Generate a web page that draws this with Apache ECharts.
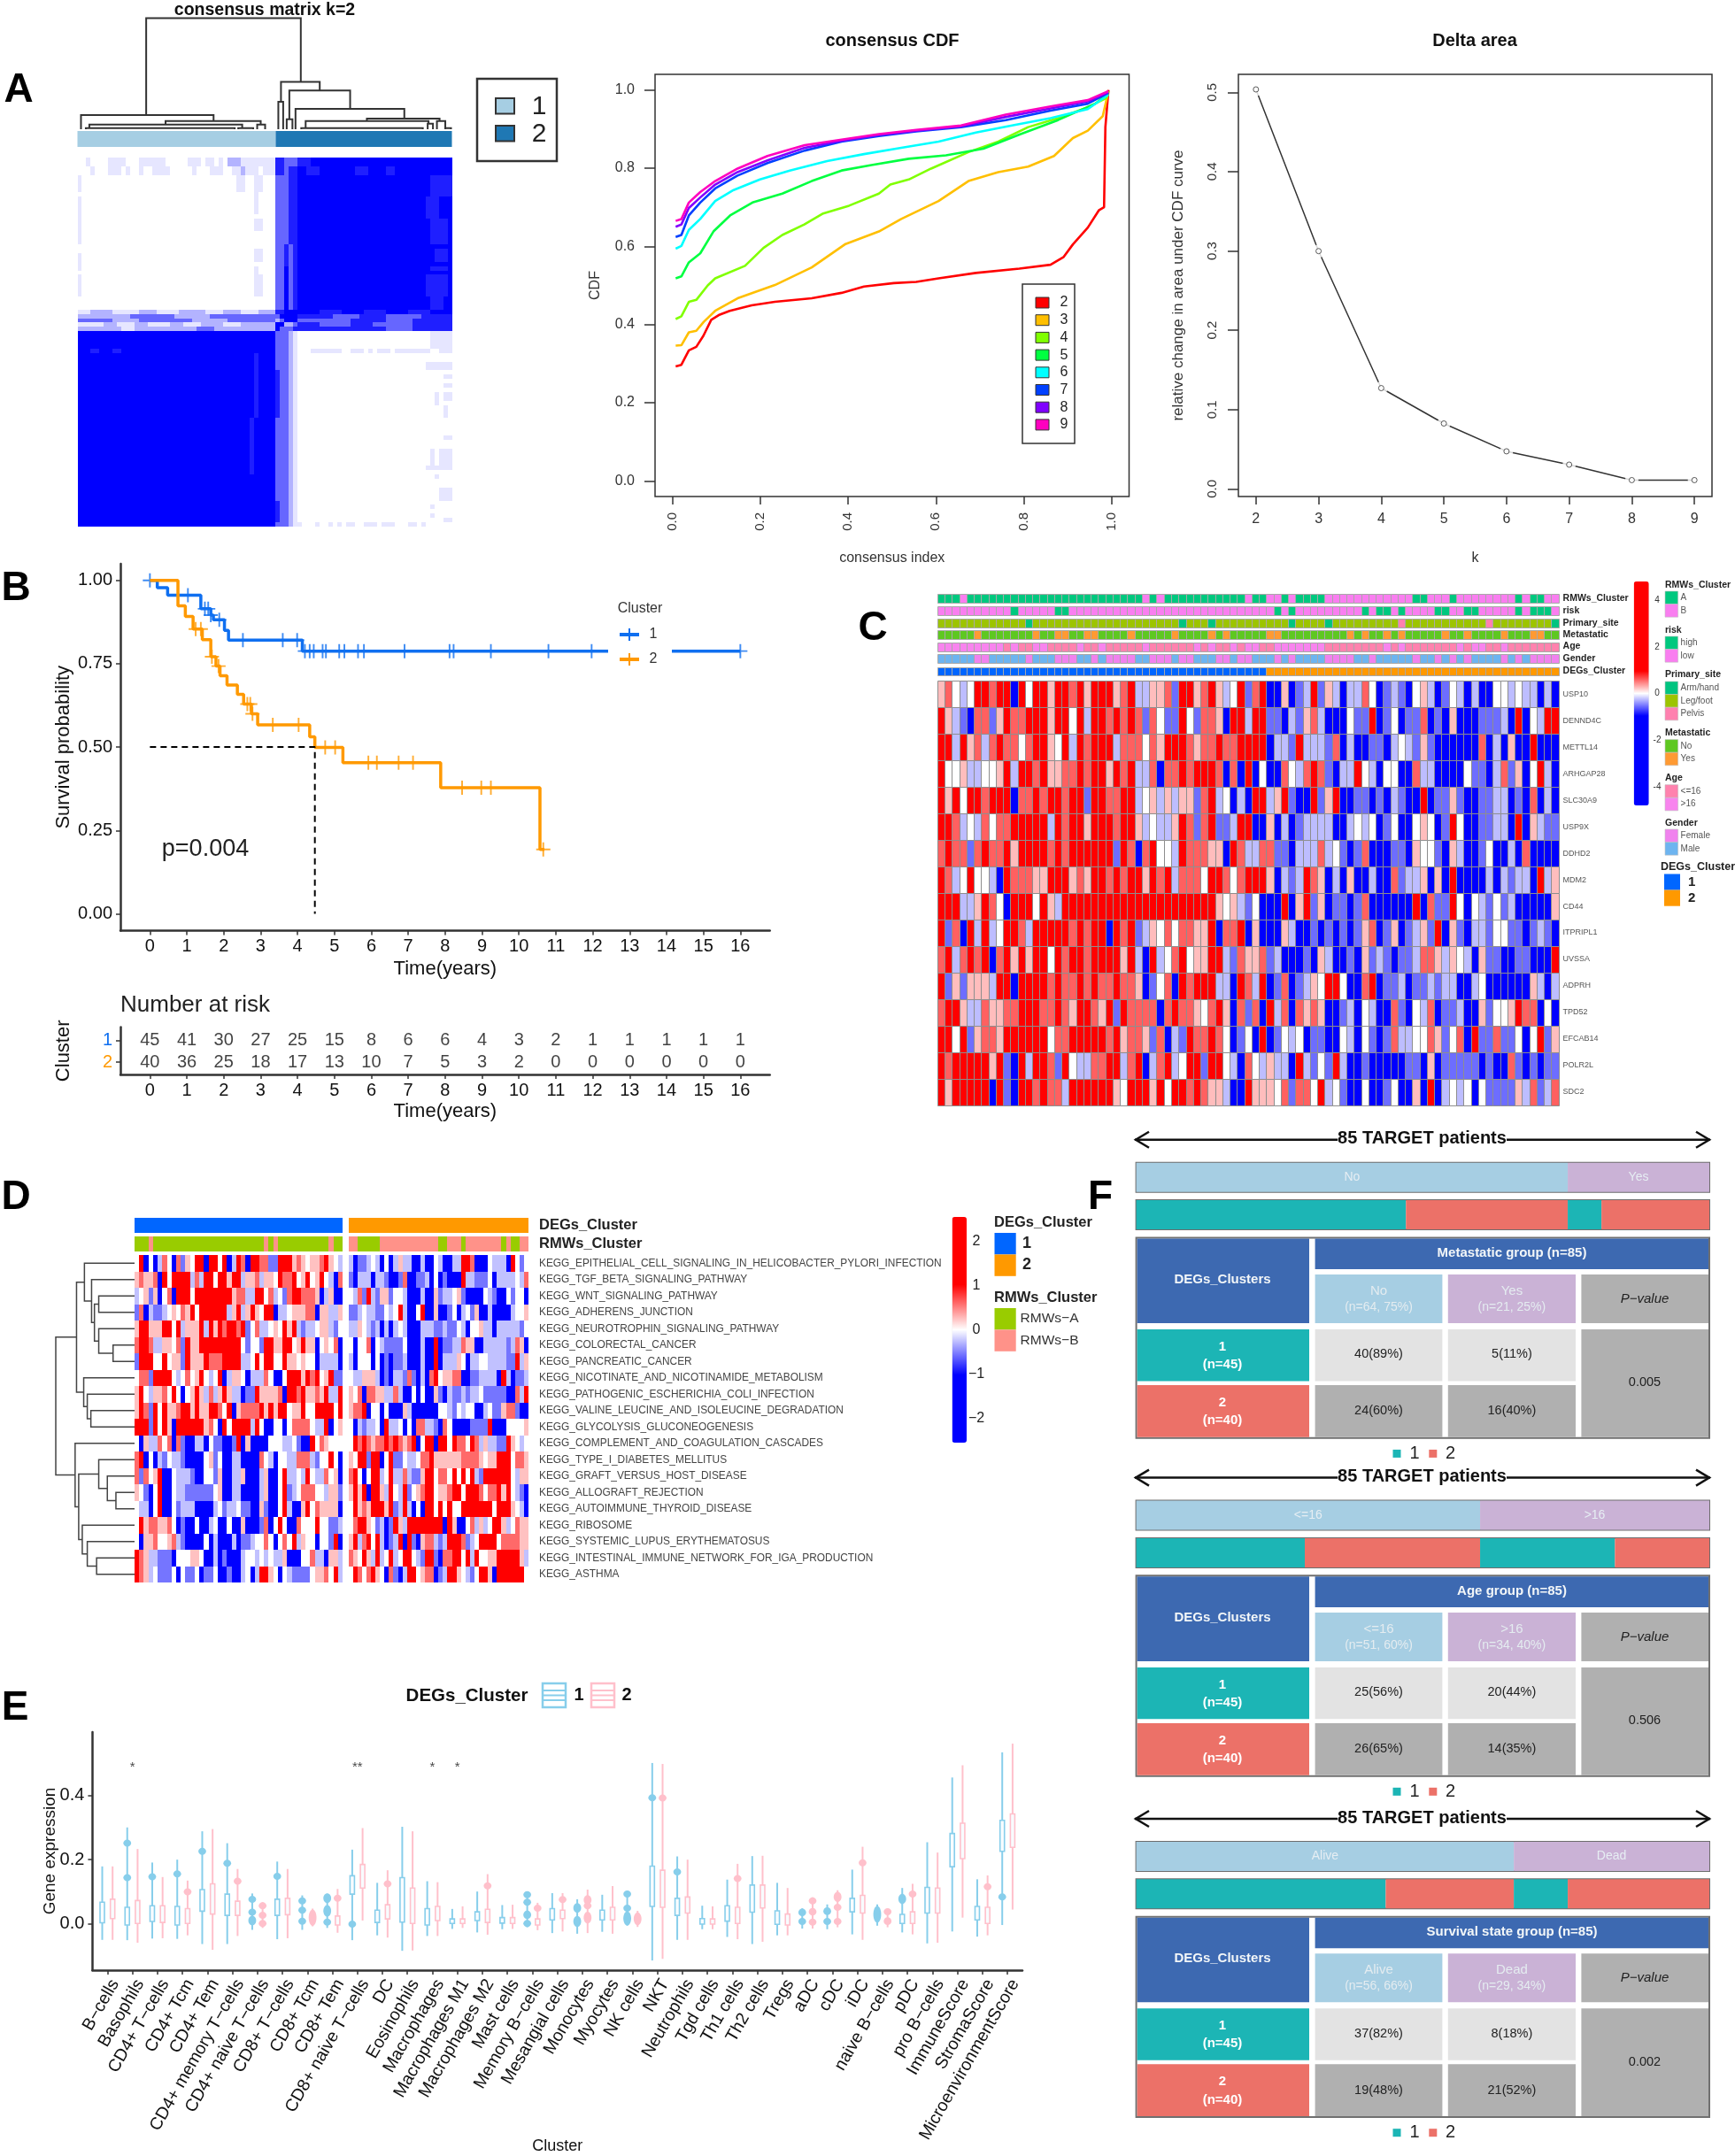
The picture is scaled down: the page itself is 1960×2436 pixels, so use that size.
<!DOCTYPE html>
<html><head><meta charset="utf-8"><style>html,body{margin:0;padding:0;background:#fff}#c{width:1960px;height:2436px}</style>
<script src="https://cdn.jsdelivr.net/npm/echarts@6/dist/echarts.min.js"></script></head><body><div id="c"></div>
<script>
const FONT='"Liberation Sans"';
// ---------- DATA ----------
const consensusLevels={a:0,b:.1,c:.3,d:.6,e:.88,f:1};
const consensusBlocks=[
[2,"a2b1a4b4a3b6a5b3a1b2a1b1a1c3b8","e2d3","e3f32"],
[2,"a3b1a3b3a1b1a2b1a2b4a5b1a3b3a2b2c1b3a1b3","e2d1e2","f2e3f8e3f4e2f13"],
[4,"b1a35b2a2b2a3","d3e2","f30e5"],
[1,"a40b1a4","d3e2","f30e5"],
[4,"b1a39b1a4","d3e2","f29e3f3"],
[1,"b1a44","d3e2","f29e3f3"],
[3,"b1a39b2a3","d3e2","f30e4f1"],
[3,"b1a44","d3e2","f30e4f1"],
[1,"a45","d2e1d1e1","f35"],
[1,"a40b2a3","d2e1d1e1","f31e3f1"],
[2,"b1a39b2a3","d2e1d1e1","f31e3f1"],
[1,"b1a44","d2e1d1e1","f35"],
[1,"b1a39b1a4","d2f1d1e1","f30e4f1"],
[1,"a40b1a4","d2f1d1e1","f35"],
[5,"b1a39b2a3","d2f1d1e1","f29e5f1"],
[3,"a45","d2f1d1e1","f30e3f2"],
[1,"b3c5b6c4b5c6b4c4b4c4","e2f3","f5e5f5e5f5e5f5"],
[1,"c12d10c8d15","d1f4","e8d6e6d8e7"],
[1,"d8c6d12c8d11","c1d1f3","d12e8d6e9"],
[1,"b6c3b4c3b5c3b4c5b4c8","f2c2d1","e5d7e5d9e9"],
[1,"c10b3c14d4c14","f1d3e1","e20d6e9"],
[4,"f45","d3c1b1","a30b5"],
[1,"f3e2f3e2f35","d3c1b1","a3b7a2b3a1b1a1b3a1b8a2b3"],
[2,"f40e1f4","d3c1b1","a35"],
[2,"f40e1f4","d3c1b1","a29b6"],
[1,"f40e1f4","e1d2c1b1","a35"],
[1,"f40e1f4","e1d2c1b1","a33b2"],
[1,"f40e1f4","e1d2c1b1","a35"],
[1,"f40e1f4","e1d2c1b1","a33b2"],
[1,"f40e1f4","e1d2c1b1","a35"],
[2,"f40e1f4","e1d2c1b1","a31b1a1b2"],
[1,"f40e1f4","e1d2c1b1","a31b1a3"],
[3,"f40e1f4","e1d2c1b1","a33b1a1"],
[4,"f39e1f5","d3c1b1","a35"],
[1,"f39e1f5","d3c1b1","a33b2"],
[2,"f39e1f5","d3c1b1","a35"],
[4,"f39e1f5","d3c1b1","a30b1a1b3"],
[1,"f39e1f5","d3c1b1","a29b6"],
[1,"f39e1f5","d3c1b1","a35"],
[1,"f45","d3c1b1","a31b1a3"],
[2,"f45","d3c1b1","a35"],
[3,"f45","d3c1b1","a32b3"],
[1,"f45","e1d2c1b1","a35"],
[1,"f45","e1d2c1b1","a30b1a4"],
[1,"f45","e1d2c1b1","a35"],
[1,"f45","e1d2c1b1","a30b1a4"],
[1,"f45","e1d2c1b1","a33b2"],
[1,"f45","d3c1b1","b1a3b1a2b1a1b1a1b2a2b3a1b3a3b2a1b1a7"]];
const consensusDendro=[[15.6,50.7,1,.127,.427],[.8,30.9,.127,0,.073],[20,41.6,.073,.041,.041],[2.7,37.4,.041,.01,.01],[1.9,35.7,.01,0,0],[36.5,39.9,.01,0,0],[40.8,42.6,.041,0,0],[46.2,55,.427,.247,.348],[45.6,46.7,.247,0,0],[48.1,61.9,.348,.089,.184],[47.5,48.8,.089,0,0],[49.5,74.2,.184,0,.095],[65.7,82.2,.095,.073,.073],[51.8,79.7,.073,.01,.05],[50.8,78.4,.01,0,0],[79.5,80.7,.05,0,0],[81.6,83.5,.073,0,0],[83.5,84.8,.01,0,0]];
const clusterCounts=[45,40];
const cdfNames=['2','3','4','5','6','7','8','9'];
const cdfColors=['#FF0000','#FFBF00','#80FF00','#00FF40','#00FFFF','#0040FF','#8000FF','#FF00BF'];
const cdfK2=[[.007,.293],[.02,.297],[.037,.334],[.054,.343],[.07,.371],[.088,.412],[.105,.424],[.13,.435],[.18,.449],[.233,.458],[.317,.467],[.385,.481],[.436,.497],[.504,.506],[.555,.509],[.606,.518],[.691,.532],[.79,.543],[.861,.553],[.891,.573],[.912,.605],[.946,.648],[.971,.692],[.983,.70],[.986,.905],[.993,1]];
const cdfK3=[[.007,.346],[.02,.347],[.037,.38],[.054,.384],[.071,.407],[.097,.435],[.148,.467],[.233,.501],[.317,.546],[.394,.606],[.47,.638],[.521,.67],[.606,.716],[.674,.767],[.742,.79],[.81,.804],[.869,.831],[.912,.877],[.946,.896],[.98,.933],[.993,.997]];
const cdfK4=[[.007,.414],[.02,.421],[.037,.458],[.054,.463],[.08,.5],[.097,.518],[.165,.55],[.207,.596],[.25,.629],[.3,.656],[.343,.684],[.402,.704],[.47,.735],[.496,.758],[.538,.771],[.589,.799],[.674,.841],[.742,.868],[.81,.905],[.878,.928],[.946,.956],[.988,.979],[.993,.997]];
const cdfK5=[[.007,.518],[.02,.523],[.037,.559],[.063,.582],[.093,.638],[.131,.679],[.182,.712],[.25,.735],[.317,.767],[.385,.794],[.453,.808],[.538,.824],[.623,.833],[.708,.85],[.793,.887],[.878,.923],[.963,.965],[.993,.993]];
const cdfK6=[[.007,.594],[.02,.601],[.037,.642],[.063,.67],[.097,.716],[.139,.744],[.199,.771],[.267,.794],[.352,.818],[.436,.836],[.521,.852],[.606,.868],[.691,.891],[.776,.91],[.861,.928],[.946,.951],[.993,.988]];
const cdfK7=[[.007,.624],[.02,.629],[.037,.679],[.063,.712],[.097,.748],[.148,.781],[.216,.813],[.301,.845],[.385,.868],[.47,.882],[.555,.894],[.657,.905],[.759,.923],[.861,.947],[.946,.965],[.993,.993]];
const cdfK8=[[.007,.65],[.02,.656],[.037,.698],[.063,.725],[.097,.758],[.148,.79],[.216,.82],[.301,.852],[.385,.87],[.47,.885],[.555,.896],[.657,.907],[.759,.931],[.861,.953],[.946,.971],[.993,.994]];
const cdfK9=[[.007,.665],[.02,.67],[.037,.712],[.063,.739],[.097,.767],[.148,.799],[.216,.831],[.301,.859],[.385,.873],[.47,.887],[.555,.898],[.657,.909],[.759,.937],[.861,.958],[.946,.974],[.993,.997]];
const deltaK=[2,3,4,5,6,7,8,9];
const deltaArea=[.5037,.2998,.127,.0824,.0473,.0305,.011,.011];
const survival1=[[0,1],[.2,.978],[.48,.956],[1.38,.915],[1.65,.896],[1.72,.882],[2.02,.85],[2.13,.821],[4.13,.788],[16,.788]];
const survival2=[[0,1],[.76,.924],[.96,.892],[1.17,.854],[1.42,.822],[1.65,.771],[1.79,.743],[1.9,.714],[2.09,.686],[2.37,.658],[2.54,.629],[2.75,.6],[2.92,.567],[4.33,.531],[4.47,.499],[5.23,.453],[7.88,.378],[10.57,.193],[10.69,.193]];
const censor1=[[0,1],[.76,.956],[1.03,.956],[1.49,.915],[1.58,.915],[1.65,.896],[1.88,.882],[2.52,.821],[3.6,.821],[3.99,.821],[4.2,.788],[4.33,.788],[4.44,.788],[4.68,.788],[4.77,.788],[5.13,.788],[5.27,.788],[5.64,.788],[5.8,.788],[6.9,.788],[8.12,.788],[8.23,.788],[9.24,.788],[10.8,.788],[11.97,.788],[16,.788]];
const censor2=[[1.24,.854],[1.38,.854],[1.68,.771],[1.86,.743],[2.64,.629],[2.72,.629],[2.78,.6],[3.33,.567],[4.03,.567],[4.75,.499],[5.02,.499],[5.92,.453],[6.15,.453],[6.74,.453],[7.13,.453],[8.46,.378],[8.98,.378],[9.24,.378],[10.66,.193]];
const medianTime=4.47;
const riskYears=[0,1,2,3,4,5,6,7,8,9,10,11,12,13,14,15,16];
const risk1=[45,41,30,27,25,15,8,6,6,4,3,2,1,1,1,1,1];
const risk2=[40,36,25,18,17,13,10,7,5,3,2,0,0,0,0,0,0];
const genes=['USP10','DENND4C','METTL14','ARHGAP28','SLC30A9','USP9X','DDHD2','MDM2','CD44','ITPRIPL1','UVSSA','ADPRH','TPD52','EFCAB14','POLR2L','SDC2'];
const expressionRows=[
"prwcwRRrRRBRwRRpRRrRpRRRprRccpprbRRprRpcwRb"+"rRBBpBbcRbpcBccrwBbcbBwpcBbwcBcBBwwcwccBcB",
"RpcbBrrbpRrrRRRpRRwRcRRrRrRrbrwbbRwbrrpBRRc"+"RRbbBcbprcBBBwbbRBbwBbbrBbBpBBBbbbcBRBwcRR",
"RRcRprcrRrrwrRRpwRcRrRRRcrrrwrpRRRrprrRrrRR"+"RRBccbRcccbrBcBBbbBcwcbpbBBBBBBrBcBpBBRBBB",
"RwwpccwwpRcRRrRpprrRrRRpRrRccrBrrRrRRRrBrBR"+"BwBBrwcrRrbBccRwcBwwBBrccBBBBwbbBcrbpBwRcB",
"RpRwRRrRRRBrrRrRRrRRbRRrrRRcwpcpcppbrRcwBcB"+"RRcpRbBBRbpRBBbbBbBcbBBRBbbpbBBbbccBbBrBcB",
"RRrcwcrwrrRRRRRcRrRRpRRRrRRpcwccpRrbrRbbcRR"+"BBpBcBbccccBBcwcwBbwBBwpwBbRwBBbbccBRBpcbb",
"rRrrbrRrrRpRRRRrRrRRRRRRbRrBrRwwcRrrrppBRrc"+"crrbbBcccrcwbBbrBBBbbBpwwbBpcBBbwBBcBrBBBB",
"RrcwRwwcBRrrrppRRRprpRRrRrRRpRrRcrrrwRRrwrR"+"RRpBcbcRrpBcBpBBcBBrbccpBpBRBBBBcBcbccBRcp",
"RRRccpRrwBRRRwRpcRRRRRRRRRRRRRRRRRRRRRpwpcb"+"wBBBRBpRbpBbbBbrBBBBBBRBrbbRwBwcbwbcBBBBBp",
"RbrBRcRcwRRrcRRRRRrRrRRBRrRbcpwrwrrppRBrrRB"+"pBBBpcBBbBbBbBbprBbpBbcpbRBpbBccbwwbbBbcbB",
"rRcrRrRBrRpRpRRwRrRRrRRRRpRcBRcwrRwppRRcbrp"+"prbcBBBbBpcBBbBpbcbBbbcrrpcpwcBpbbBBbbBBBR",
"RbpbpppcRRBRRRRrRrrRrRrrRrrpBbwrBRrRRRccBRr"+"cRBbrBbcpwRRwBBrRBbbcBbbcbccBBcwBBBBBBpcBc",
"rRRpccrpprrRRRrrRrpRRrpRbRrrrrBrRrrpwrRpBrb"+"rBRcrBrprpBBbcBwcBBrbBwcrBbbcBBpbwwpRrrBwB",
"RRwRbprrpRRRRRRwrrRRRRRrRprrpbrBcbRrrRrwBbw"+"BRBbwcwBbbBBwcBwbBbrccwwrpbwrBRbbrbbwBwRbp",
"RrRRRRRpRbBRcRRrbRwccrrRRcrRBcrRcwRRbRRwcBr"+"wcpccBRcbwbRcBBbBBBBBbbBpBbbbbbBbBBrbBbBbb",
"RpRRRRRBRbBRRrRrrcRRRRRRpwRRRpRwRRrRrppcBBR"+"pppwrbrrwRcwbBBwBBbwBBpBRBcwcwBwbbbbpcrbcr"];
const heatLevels={B:-2.5,b:-.55,c:-.25,w:0,p:.25,r:.6,R:2.5};
const annotationTracks=[
{title:'RMWs_Cluster',names:['A','B'],colors:['#00C87F','#F97EF0'],runs:[0,3,1,1,0,24,1,1,0,1,1,1,0,11,1,1,0,2,1,2,0,1,1,1,0,4,1,12,0,2,1,3,0,1,1,8,0,1,1,1,0,2,1,2]},
{title:'risk',names:['high','low'],colors:['#00C87F','#F97EF0'],runs:[1,10,0,1,1,5,0,2,1,28,0,1,1,1,0,1,1,9,0,1,1,1,0,2,1,1,0,1,1,4,0,2,1,2,0,2,1,5,0,1,1,1,0,3,1,1]},
{title:'Primary_site',names:['Arm/hand','Leg/foot','Pelvis'],colors:['#00C480','#9DC400','#FF80AF'],runs:[1,12,0,1,1,20,0,1,1,3,0,1,1,10,0,1,1,4,0,1,1,9,2,1,1,11,2,1,1,8,0,1]},
{title:'Metastatic',names:['No','Yes'],colors:['#5EC821','#FF9A33'],runs:[0,5,1,1,0,7,1,1,0,2,1,2,0,2,1,2,0,4,1,1,0,5,1,1,0,4,1,1,0,1,1,1,0,5,1,2,0,9,1,1,0,1,1,1,0,2,1,1,0,1,1,1,0,5,1,1,0,2,1,1,0,4,1,1,0,3,1,2,0,2]},
{title:'Age',names:['<=16','>16'],colors:['#FF82AE','#F884EE'],runs:[1,9,0,1,1,1,0,2,1,2,0,4,1,1,0,2,1,1,0,5,1,1,0,6,1,1,0,1,1,1,0,2,1,1,0,1,1,2,0,2,1,7,0,8,1,1,0,1,1,1,0,7,1,1,0,1,1,2,0,2,1,1,0,7]},
{title:'Gender',names:['Female','Male'],colors:['#F082EE','#6DB4F0'],runs:[1,5,0,2,1,5,0,1,1,3,0,3,1,2,0,1,1,1,0,4,1,2,0,3,1,1,0,2,1,3,0,2,1,1,0,2,1,3,0,1,1,1,0,1,1,4,0,4,1,2,0,1,1,5,0,1,1,2,0,1,1,1,0,1,1,1,0,1,1,4,0,1,1,1,0,1,1,1,0,4]},
{title:'DEGs_Cluster',names:['1','2'],colors:['#0066FF','#FF9900'],runs:[0,45,1,40]}];
const colorbarTicksC=[4,2,0,-2,-4];
const colorbarTicksD=[2,1,0,-1,-2];
const pathways=['KEGG_EPITHELIAL_CELL_SIGNALING_IN_HELICOBACTER_PYLORI_INFECTION','KEGG_TGF_BETA_SIGNALING_PATHWAY','KEGG_WNT_SIGNALING_PATHWAY','KEGG_ADHERENS_JUNCTION','KEGG_NEUROTROPHIN_SIGNALING_PATHWAY','KEGG_COLORECTAL_CANCER','KEGG_PANCREATIC_CANCER','KEGG_NICOTINATE_AND_NICOTINAMIDE_METABOLISM','KEGG_PATHOGENIC_ESCHERICHIA_COLI_INFECTION','KEGG_VALINE_LEUCINE_AND_ISOLEUCINE_DEGRADATION','KEGG_GLYCOLYSIS_GLUCONEOGENESIS','KEGG_COMPLEMENT_AND_COAGULATION_CASCADES','KEGG_TYPE_I_DIABETES_MELLITUS','KEGG_GRAFT_VERSUS_HOST_DISEASE','KEGG_ALLOGRAFT_REJECTION','KEGG_AUTOIMMUNE_THYROID_DISEASE','KEGG_RIBOSOME','KEGG_SYSTEMIC_LUPUS_ERYTHEMATOSUS','KEGG_INTESTINAL_IMMUNE_NETWORK_FOR_IGA_PRODUCTION','KEGG_ASTHMA'];
const pathwayTree=[110,[81,[70,0,[60,1,[56,[50,2,3],[50,4,[30,5,6]]]]],[71,7,[66,8,[61,9,10]]]],[83,11,[78,[50,12,[38,13,[26,14,15]]],[73,16,[66,17,[53,18,19]]]]]];
const gsvaLeft=[
"wRBwBcrwBrbpwRRBRRwRBcRrBRRrrbbRRRprpwpprRpwc","prpprBRwRRRRcrcRRwRRpRRcpprcppwRrrRwpRwpRwcBr","cwpbpBwrBRRRwRRRRRRRRprrccRRwrcwbrRRrrrpBcpBB","brBcbbcwpwrpRwRRRRRRcpRcpRpwRRBccwppprrBppccp","pRRpppRRwRcpppRcRpRrRRrRbwrccwpwRpRcbccwppcbw","rRRrccppwrbRppRRRRRRRRRwbwwbRRppRRwpRppBwpwrB","bRRRwwRwppbRpppRrrrRRRRccwRwRRwwRppwpwwBccccB","wrrbRRRRwcwrwpRwcwRBcppwBcccrwBBwRRRpRrRwpRbb","pRwcpprwRwBwpRpcrcpRpccBbbRpppprBRRrRpprpRccR","pRrbRwRpprRRpRppRRrwRBprrrrRpRpRRwppRwwRRRRwR","RRRbRwRpBRRRRRRprwBRwRRRRcRwBBwwBwrrrrwccRBwp","wBpccrwrBrbBBccBwbbBBbRBpBBBBwwwccwbBBRwrpwww","rRBwBcbwccbBBBBwpbwBBccBBBBrwcBwwccrrrcbwwRwB","rbrwpRBBwcccbBBwwbpBBccpBBBcpBBwRccwcRwccrwpB","pwbBwRBBwccbbbbbbwpBBccBBBBcpBBwRbcwrrrwwcppb","wccBwRBBwbcccBBBBcwbccwbbBBpbBBwRcBBpRwrppppB","wRprrpprwBbBBwBBcwBBwBBpBBBbrBwRwBBrwwwRwwbbc","wBpprwwprcbBBBBwBcBBBcBbbcwwrwBwrwRcpwwBwwbRB","RrpccbbbBwwwppwBBcBbBBBcwwcwcwccpBBBwwrccBppc","RrpcwbbbwBwbbwBbbwBBbBBcwBcRRpwBwcbbbbwpprwRc"];
const gsvaRight=[
"cBbbcwcBwBcpccBBcBBwcBBccRRrBBBwcccBRwbw","bBcccBccbBBbrBBbbcBwBbBBBRccbbbwBccccwcr","wcrbRcbppbwwcBBBcBBpbccwpbBBBBwcbBBwbwwB","bbcwccbbwcwRcBBwRBBpBBbwBcwbpBBcBBBBcwwp","ccpwcbcBcBcwcBBBcccbbcbbwcBwwpccBcccccbw","wBwwrBwcbbbbwBBBcBBRBbbccrppBBcccccbcrpB","cBwwwBwBbBbbcBBBcBBRBcccpwBccwwccccbbRcp","wccpppcBbBccbrbBcBrRwpprrBBbbccccBRcBbbc","pwrBrrppccrcBBwBwBBpbBcbbcbccwbbbbbBBrcR","prrRBwwBwBBBpcBBBBBBwwcbwcwwBBcwbbprrbBB","wBcbccwBRccwBwBrrccbBrwBBBBbbbbRBBBwwwwp","wRrRrprrRrRrprRBwRRBRRwRrrwRrcpccbbRpwcw","pwRRbRRBwRbbwccwrrRpppppprrrrpwppRRRwrrp","rRwBwRRcwRccrcbbpRRwrrwRwRwRcbRRRRRRwcpp","pRpRBRRpcRwcRbwprRRwpprRRwRRRrwrrRpRwcbB","wRprpRRRpRbcRcBwBRRwRwRwwRRRRRRRwRRRpwcB","wrRRpwbcBbRpcRRRRRRRRBRpBBwrcpcwRRpcwrpp","pRcrRwRcBbcRBRbBprrcbcRRRrbcwRRRRwrrrrpp","rpwRpcRcwRcwRRwcbRRbBrrRRwRcRwwppRRRRRpc","wRrwrRpwBrbBcRRwprrBbcRRpwcbwRRpBRRRRRRw"];
const gsvaRmwLeft=[0,3,1,1,0,24,1,1,0,1,1,1,0,11,1,1,0,2];
const gsvaRmwRight=[1,2,0,5,1,13,0,2,1,3,0,1,1,8,0,1,1,1,0,2,1,2];
const rmwColors=['#99CC00','#FF9289'];
const degColors=['#0066FF','#FF9900'];
const cellTypes=['B\u2212cells','Basophils','CD4+ T\u2212cells','CD4+ Tcm','CD4+ Tem','CD4+ memory T\u2212cells','CD4+ naive T\u2212cells','CD8+ T\u2212cells','CD8+ Tcm','CD8+ Tem','CD8+ naive T\u2212cells','DC','Eosinophils','Macrophages','Macrophages M1','Macrophages M2','Mast cells','Memory B\u2212cells','Mesangial cells','Monocytes','Myocytes','NK cells','NKT','Neutrophils','Tgd cells','Th1 cells','Th2 cells','Tregs','aDC','cDC','iDC','naive B\u2212cells','pDC','pro B\u2212cells','ImmuneScore','StromaScore','MicroenvironmentScore'];
const immune1=[[-.049,.179,.004,.068,[]],[-.05,.30,-.003,.052,[.251,.144]],[-.045,.191,.008,.057,[.147]],[-.046,.2,-.003,.055,[.156]],[-.062,.288,.04,.107,[.226]],[-.062,.251,.027,.093,[.189]],[-.018,.095,null,null,[.077,.037,[.011,.015]]],[-.047,.194,.027,.077,[.148]],[-.018,.089,null,null,[.072,.043,.009]],[-.012,.093,null,null,[[.08,.015],[.041,.018],.006]],[-.05,.231,.093,.15,[0]],[-.035,.128,.005,.043,[]],[-.083,.302,.006,.144,[]],[-.037,.133,-.003,.048,[]],[-.015,.047,.002,.016,[]],[-.026,.101,.011,.038,[]],[-.016,.059,.003,.02,[]],[-.01,.099,null,null,[.091,.068,[.029,.013],.002]],[-.028,.096,.013,.048,[]],[-.03,.077,null,null,[[.05,.015],[.008,.017]]],[-.024,.091,.013,.043,[]],[-.005,.103,null,null,[.093,.049,[.018,.022]]],[-.113,.5,.055,.18,[.392]],[-.049,.21,.027,.08,[.162]],[-.016,.057,0,.017,[]],[-.04,.138,.009,.057,[]],[-.062,.211,.037,.121,[]],[-.035,.128,-.001,.041,[]],[-.014,.049,null,null,[[.036,.012],.008]],[-.016,.061,null,null,[[.04,.012],.008]],[-.032,.169,.038,.08,[]],[-.005,.061,null,null,[[.03,.026]]],[-.026,.112,.002,.03,[[.078,.016]]],[-.06,.254,.034,.114,[]],[-.023,.455,.178,.281,[]],[-.039,.139,.013,.055,[]],[-.003,.533,.226,.322,[.084]]];
const immune2=[[-.049,.179,.017,.077,[]],[-.058,.233,.002,.073,[]],[-.044,.146,.005,.057,[]],[-.035,.135,.002,.048,[.1]],[-.08,.295,.031,.125,[]],[-.037,.171,.027,.071,[.133]],[-.012,.068,null,null,[.057,.027,.002]],[-.044,.171,.029,.08,[]],[-.007,.048,null,null,[[.02,.025]]],[-.027,.109,-.003,.025,[.08]],[.011,.298,.112,.185,[]],[-.042,.167,.016,.06,[.125]],[-.082,.288,.002,.112,[]],[-.037,.13,.011,.055,[]],[-.012,.055,.002,.016,[]],[-.033,.155,.005,.046,[.119]],[-.015,.06,.002,.02,[]],[-.019,.066,-.003,.016,[.049]],[-.023,.096,.017,.043,[.076]],[-.028,.107,null,null,[[.075,.015],.057,[.02,.018]]],[-.03,.118,.013,.052,[]],[-.009,.041,null,null,[[.016,.02]]],[-.108,.497,.052,.167,[.391]],[-.049,.2,.034,.084,[]],[-.016,.055,0,.016,[]],[-.047,.187,.002,.052,[.141]],[-.055,.212,.05,.121,[]],[-.035,.112,-.003,.031,[]],[-.014,.083,null,null,[.072,[.038,.012],.006]],[-.01,.105,null,null,[[.084,.016],.052,.008]],[-.049,.24,.034,.089,[.19]],[-.01,.048,null,null,[.038,[.009,.012]]],[-.032,.125,.002,.038,[.093]],[-.058,.222,.034,.112,[]],[.02,.493,.203,.313,[]],[-.035,.151,.002,.052,[.116]],[.045,.56,.238,.342,[]]];
const significance=[[1,'*'],[10,'**'],[13,'*'],[14,'*']];
const starLevel=.493;
const tableTitles=['Metastatic group (n=85)','Age group (n=85)','Survival state group (n=85)'];
const groupNames=[['No','Yes'],['<=16','>16'],['Alive','Dead']];
const groupTotals=[[64,21],[51,34],[56,29]];
const groupShare=[['(n=64, 75%)','(n=21, 25%)'],['(n=51, 60%)','(n=34, 40%)'],['(n=56, 66%)','(n=29, 34%)']];
const splitCounts=[[40,24,5,16],[25,26,20,14],[37,19,8,21]];
const splitLabels=[['40(89%)','5(11%)','24(60%)','16(40%)'],['25(56%)','20(44%)','26(65%)','14(35%)'],['37(82%)','8(18%)','19(48%)','21(52%)']];
const pValues=['0.005','0.506','0.002'];
// ---------- BUILD ----------
const grid=[],xAxis=[],yAxis=[],series=[],visualMap=[],G=[];
function addGrid(r,xa,ya,extra){const i=grid.length;grid.push(Object.assign({left:r[0],top:r[1],width:r[2]-r[0],height:r[3]-r[1],outerBoundsMode:'none'},extra||{}));xAxis.push(Object.assign({gridIndex:i},xa));yAxis.push(Object.assign({gridIndex:i},ya));return i;}
const font=(s,w,st)=>`${st||''} ${w||''} ${s}px ${FONT}`.trim();
function txt(t,x,y,o){o=o||{};G.push({type:'text',x,y,rotation:o.rot||0,z:8,silent:true,style:{text:t,font:font(o.size||14,o.weight,o.style),fill:o.color||'#111',align:o.align||'center',verticalAlign:'middle'}});}
function rect(x0,y0,x1,y1,fill,stroke,lw,z){G.push({type:'rect',z:z||5,silent:true,shape:{x:x0,y:y0,width:x1-x0,height:y1-y0},style:{fill:fill||'none',stroke:stroke||'none',lineWidth:lw||0}});}
function seg(pts,stroke,lw,z){G.push({type:'polyline',z:z||6,silent:true,shape:{points:pts},style:{stroke,lineWidth:lw,fill:'none'}});}
const hideV=(min,max,inv)=>({type:'value',show:false,min,max,inverse:!!inv,axisLine:{onZero:false}});
const idx=n=>Array.from({length:n},(_,i)=>String(i));
function unrun(runs){const o=[];for(let i=0;i<runs.length;i+=2)for(let k=0;k<runs[i+1];k++)o.push(runs[i]);return o;}
function unRle(s){const o=[];s.replace(/([a-f])(\d+)/g,(m,a,n)=>{for(let k=0;k<+n;k++)o.push(consensusLevels[a]);return m;});return o;}
const hiddenCat=n=>({type:'category',show:false,data:idx(n)});
function heatmap(r,rows,yLabels,vm,labelStyle,border){
  const nx=rows[0].length,i=addGrid(r,hiddenCat(nx),yLabels?{type:'category',inverse:true,position:'right',data:yLabels,axisLine:{show:false},axisTick:{show:false},axisLabel:Object.assign({interval:0,fontFamily:FONT},labelStyle)}:{type:'category',inverse:true,show:false,data:idx(rows.length)});
  const data=[];rows.forEach((row,y)=>row.forEach((v,x)=>data.push([x,y,v])));
  series.push({type:'custom',xAxisIndex:i,yAxisIndex:i,data,progressive:0,silent:true,clip:false,renderItem(p,api){
    const c=api.coord([api.value(0),api.value(1)]),s=api.size([1,1]),o=border?.5:0;
    const x0=Math.round(c[0]-s[0]/2),x1=Math.round(c[0]+s[0]/2),y0=Math.round(c[1]-s[1]/2),y1=Math.round(c[1]+s[1]/2);
    return {type:'rect',shape:{x:x0+o,y:y0+o,width:x1-x0,height:y1-y0},style:{fill:api.visual('color'),stroke:border||null,lineWidth:border?1:0}};}});
  const si=series.length-1;vm.seriesIndex.push(si);return si;
}
// visual maps
const vmConsensus={type:'continuous',show:false,dimension:2,min:0,max:1,seriesIndex:[],inRange:{color:['#FFFFFF','#0000FF']}};
const vmC={type:'continuous',show:true,left:1845.7,top:657,itemWidth:17,itemHeight:253,padding:0,dimension:2,min:-4.8,max:4.8,seriesIndex:[],calculable:false,inRange:{color:['#0000FF','#0000FF','#0000FF','#0000FF','#0000FF','#FFFFFF','#FF0000','#FF0000','#FF0000','#FF0000','#FF0000']}};
const vmD={type:'continuous',show:true,left:1075.6,top:1375,itemWidth:16.4,itemHeight:255,padding:0,dimension:2,min:-2.54,max:2.54,seriesIndex:[],calculable:false,inRange:{color:['#0000FF','#0000FF','#0000FF','#0000FF','#8080FF','#FFFFFF','#FF8080','#FF0000','#FF0000','#FF0000','#FF0000']}};
const annotationPalette=[];
const vmAnno={type:'piecewise',show:false,dimension:2,seriesIndex:[],pieces:[]};
visualMap.push(vmConsensus,vmC,vmD,vmAnno);
function paletteCodes(colors){return colors.map(c=>{let k=annotationPalette.indexOf(c);if(k<0){annotationPalette.push(c);k=annotationPalette.length-1;vmAnno.pieces.push({value:k,color:c});}return k;});}
function strip(r,runs,colors,label,labelStyle,border){const codes=paletteCodes(colors);heatmap(r,[unrun(runs).map(v=>codes[v])],label?[label]:null,vmAnno,labelStyle,border);}
function dendro(gi,merges,horizontal,color,lw){series.push({type:'custom',xAxisIndex:gi,yAxisIndex:gi,silent:true,data:merges,clip:false,renderItem(p,api){
  const a=api.value(0),b=api.value(1),h=api.value(2),ha=api.value(3),hb=api.value(4);
  const pts=horizontal?[[ha,a],[h,a],[h,b],[hb,b]]:[[a,ha],[a,h],[b,h],[b,hb]];
  return {type:'polyline',shape:{points:pts.map(q=>api.coord(q))},style:{stroke:color,lineWidth:lw,fill:'none'}};}});}
function stackStrip(r,values,colors,labels,border){
  const total=values.reduce((a,b)=>a+b,0);
  const i=addGrid(r,hideV(0,total),{type:'category',show:false,data:['']},border?{show:true,borderColor:border,borderWidth:2,backgroundColor:'#fff'}:{});
  values.forEach((v,k)=>series.push({type:'bar',xAxisIndex:i,yAxisIndex:i,stack:'s'+i,barWidth:'100%',silent:true,data:[v],itemStyle:{color:colors[k]},label:labels&&labels[k]?{show:true,position:'inside',formatter:labels[k],color:'#E6EEF3',fontSize:14,fontFamily:FONT}:{show:false}}));
}
[['A',21,102],['B',18,665],['C',986,710],['D',18,1353],['E',17,1930],['F',1243,1353]].forEach(a=>txt(a[0],a[1],a[2],{size:46,weight:'bold',color:'#000'}));
// ---- A
const consensusRows=[];consensusBlocks.forEach(b=>{const row=unRle(b[1]).concat(unRle(b[2]),unRle(b[3])).slice(0,85);for(let k=0;k<b[0];k++)consensusRows.push(row);});
heatmap([87.5,178,510.5,595],consensusRows,null,vmConsensus);
stackStrip([87.5,148,510.5,166],clusterCounts,['#A6CEE3','#1F78B4']);
dendro(addGrid([87.5,20.6,510.5,146],hideV(0,85),hideV(0,1)),consensusDendro,false,'#333',2);
txt('consensus matrix k=2',299,12,{size:19.5,weight:'bold'});
rect(539,89,629,182,'#fff','#333',2.5);
[['1','#A6CEE3',111],['2','#1F78B4',142]].forEach(a=>{rect(560,a[2],581,a[2]+17.5,a[1],'#333',2);txt(a[0],609,a[2]+9.5,{size:30,color:'#222'});});
function rAxis(min,max,vals,dec,tick,rot,margin,name,gap,size){return {type:'value',min,max,axisLine:{show:false,onZero:false},splitLine:{show:false},axisTick:{show:true,customValues:vals,length:tick,lineStyle:{color:'#333',width:1.5}},axisLabel:{show:true,customValues:vals,rotate:rot,margin,fontSize:size||16,fontFamily:FONT,color:'#333',formatter:v=>dec?(+v).toFixed(dec):String(v)},name,nameLocation:'middle',nameGap:gap,nameTextStyle:{fontSize:16,fontFamily:FONT,color:'#333'}};}
const box={show:true,borderColor:'#333',borderWidth:1.5};
const tenths=[0,.2,.4,.6,.8,1];
const gCdf=addGrid([740,84,1275.5,561],rAxis(-.04,1.04,tenths,1,9,90,18,'consensus index',62,15),rAxis(-.04,1.04,tenths,1,12,0,23,'CDF',59),box);
[cdfK2,cdfK3,cdfK4,cdfK5,cdfK6,cdfK7,cdfK8,cdfK9].forEach((d,i)=>series.push({type:'line',xAxisIndex:gCdf,yAxisIndex:gCdf,data:d,showSymbol:false,symbol:'none',silent:true,lineStyle:{color:cdfColors[i],width:2.6}}));
txt('consensus CDF',1008,46,{size:20,weight:'bold'});
rect(1155,321,1214,501,'#fff','#333',1.5);
cdfNames.forEach((n,i)=>{const y=336+i*19.7;rect(1170,y,1185,y+12,cdfColors[i],'#333',1);txt(n,1202,y+6,{size:16,color:'#222'});});
const gDelta=addGrid([1399,84,1934,561],rAxis(1.72,9.28,deltaK,0,9,0,18,'k',62,16),rAxis(-.0097,.5227,[0,.1,.2,.3,.4,.5],1,12,90,22,'relative change in area under CDF curve',59,15),box);
yAxis[gDelta].nameTextStyle.fontSize=17;
const deltaPts=deltaK.map((k,i)=>[k,deltaArea[i]]);
series.push({type:'line',xAxisIndex:gDelta,yAxisIndex:gDelta,data:deltaPts,symbol:'none',silent:true,lineStyle:{color:'#333',width:1.5}});
series.push({type:'scatter',xAxisIndex:gDelta,yAxisIndex:gDelta,data:deltaPts,symbol:'circle',symbolSize:15,silent:true,itemStyle:{color:'#fff'},z:3});
series.push({type:'scatter',xAxisIndex:gDelta,yAxisIndex:gDelta,data:deltaPts,symbol:'circle',symbolSize:6,silent:true,itemStyle:{color:'#fff',borderColor:'#333',borderWidth:1},z:4});
txt('Delta area',1666,46,{size:20,weight:'bold'});
// ---- B
const bTicks=riskYears;
const ggAxis=(min,max,vals,fmt,name,gap,margin)=>({type:'value',min,max,axisLine:{show:true,onZero:false,lineStyle:{color:'#333',width:2.5}},splitLine:{show:false},axisTick:{show:true,customValues:vals,length:5,lineStyle:{color:'#333',width:1.5}},axisLabel:{show:true,customValues:vals,margin,fontSize:20,fontFamily:FONT,color:'#111',formatter:fmt},name,nameLocation:'middle',nameGap:gap,nameTextStyle:{fontSize:22,fontFamily:FONT,color:'#111'}});
const gKm=addGrid([136,637,869.7,1051.6],ggAxis(-.8,16.8,bTicks,v=>String(v),'Time(years)',32,8),ggAxis(-.051,1.05,[0,.25,.5,.75,1],v=>(+v).toFixed(2),'Survival probability',53,9));
const plus='path://M4.4,0H5.6V4.4H10V5.6H5.6V10H4.4V5.6H0V4.4H4.4Z';
[[survival1,censor1,'#0F6FF0'],[survival2,censor2,'#FF9900']].forEach(a=>{
  series.push({type:'line',xAxisIndex:gKm,yAxisIndex:gKm,data:a[0],step:'end',symbol:'none',silent:true,lineStyle:{color:a[2],width:3.5}});
  series.push({type:'scatter',xAxisIndex:gKm,yAxisIndex:gKm,data:a[1],symbol:plus,symbolSize:16,silent:true,itemStyle:{color:a[2]}});
});
series.push({type:'line',xAxisIndex:gKm,yAxisIndex:gKm,data:[[0,.5],[medianTime,.5],[medianTime,0]],symbol:'none',silent:true,lineStyle:{color:'#000',width:2,type:[7,5]}});
txt('p=0.004',232,960,{size:27,color:'#222'});
rect(687,670,759,770,'#fff');
txt('Cluster',723,687.5,{size:16,color:'#333'});
[[717,'#0F6FF0','1'],[745,'#FF9900','2']].forEach(a=>{seg([[700,a[0]],[722,a[0]]],a[1],4,7);seg([[711,a[0]-7],[711,a[0]+7]],a[1],2,7);txt(a[2],738,a[0],{size:16,color:'#333'});});
txt('Number at risk',136,1136,{size:26,align:'left',color:'#222'});
const gRisk=addGrid([136,1160.6,869.7,1214],ggAxis(-.8,16.8,bTicks,v=>String(v),'Time(years)',31,8),ggAxis(.43,2.61,[1,2],v=>v==2?'1':'2','Cluster',53,9));
yAxis[gRisk].axisLabel.color=(v)=>v==2?'#0F6FF0':'#FF9900';
[[risk1,2],[risk2,1]].forEach(a=>series.push({type:'scatter',xAxisIndex:gRisk,yAxisIndex:gRisk,data:riskYears.map((t,i)=>[t,a[1],a[0][i]]),symbol:'circle',symbolSize:1,silent:true,itemStyle:{color:'rgba(0,0,0,0)'},label:{show:true,position:'inside',formatter:p=>String(p.value[2]),fontSize:20,fontFamily:FONT,color:'#111'}}));
// ---- C
const annoRects=[[671.3,681.4],[685,695],[698.7,708.7],[712,722.4],[725.6,735.6],[739,749.3],[753.7,763.3]];
annotationTracks.forEach((t,i)=>strip([1058.8,annoRects[i][0],1760.6,annoRects[i][1]],t.runs,t.colors,t.title,{margin:5,fontSize:10.5,fontWeight:'bold',color:'#222'},'#A8A8A8'));
heatmap([1058.8,769.4,1760.6,1248.7],expressionRows.map(s=>s.split('').map(c=>heatLevels[c])),genes,vmC,{margin:5,fontSize:9,color:'#555'},'#8E8E8E');
colorbarTicksC.forEach(v=>txt(String(v),1872,657+(4.8-v)/9.6*253,{size:10,color:'#333'}));
const legendC=[[661,668],[712,719],[762.5,770],[828,835.6],[879.5,886.7],[929.7,937]];
legendC.forEach((p,i)=>{const t=annotationTracks[i];txt(t.title,1881,p[0],{size:10.5,weight:'bold',align:'left',color:'#222'});t.names.forEach((n,k)=>{const y=p[1]+k*14.6;rect(1881,y,1895.6,y+14.6,t.colors[k],'#BFBFBF',.6);txt(n,1898.6,y+7.3,{size:10,align:'left',color:'#555'});});});
const degTrack=annotationTracks[6];
txt(degTrack.title,1876,980,{size:12.5,weight:'bold',align:'left',color:'#222'});
degTrack.names.forEach((n,k)=>{const y=987.5+k*18.1;rect(1880,y,1898,y+18.1,degTrack.colors[k]);txt(n,1907,y+9,{size:15,weight:'bold',align:'left',color:'#222'});});
// ---- D
strip([152,1376,387,1392.7],[0,45],degColors);
strip([393.6,1376,597,1392.7],[1,40],degColors,'DEGs_Cluster',{margin:12,fontSize:16.5,fontWeight:'bold',color:'#222'});
strip([152,1396.7,387,1414],gsvaRmwLeft,rmwColors);
strip([393.6,1396.7,597,1414],gsvaRmwRight,rmwColors,'RMWs_Cluster',{margin:12,fontSize:16.5,fontWeight:'bold',color:'#222'});
heatmap([152,1418,387,1788],gsvaLeft.map(s=>s.split('').map(c=>heatLevels[c])),null,vmD);
heatmap([393.6,1418,597,1788],gsvaRight.map(s=>s.split('').map(c=>heatLevels[c])),pathways,vmD,{margin:12,fontSize:11.9,color:'#444'});
const treeMerges=[];(function lay(n){if(typeof n==='number')return {p:n+.5,h:0};const a=lay(n[1]),b=lay(n[2]);treeMerges.push([a.p,b.p,n[0],a.h,b.h]);return {p:(a.p+b.p)/2,h:n[0]};})(pathwayTree);
dendro(addGrid([63,1418,152,1788],hideV(0,110,true),hideV(0,20,true)),treeMerges,true,'#444',1.5);
colorbarTicksD.forEach(v=>txt(String(v).replace('-','\u2212'),1103,1375+(2.54-v)/5.08*255,{size:16,color:'#222'}));
txt('DEGs_Cluster',1123,1381.7,{size:16.5,weight:'bold',align:'left',color:'#222'});
['1','2'].forEach((n,k)=>{const y=1393+k*24.4;rect(1123.5,y,1147.7,y+24.4,degColors[k]);txt(n,1160,y+12,{size:18,weight:'bold',color:'#222'});});
txt('RMWs_Cluster',1123,1466.7,{size:16.5,weight:'bold',align:'left',color:'#222'});
['RMWs\u2212A','RMWs\u2212B'].forEach((n,k)=>{const y=1478+k*24.4;rect(1123.5,y,1147.7,y+24.4,rmwColors[k]);txt(n,1152.6,y+12,{size:15.5,align:'left',color:'#333'});});
// ---- E
const catIdx=cellTypes.map((c,i)=>i);
const gE=addGrid([104.4,1957,1155,2226],{type:'value',min:-.6,max:36.6,axisLine:{show:true,onZero:false,lineStyle:{color:'#333',width:2.5}},splitLine:{show:false},axisTick:{show:true,customValues:catIdx,length:5,lineStyle:{color:'#333',width:1.5}},axisLabel:{show:true,customValues:catIdx,rotate:60,margin:7,fontSize:19.5,fontFamily:FONT,color:'#111',verticalAlign:'top',align:'right',formatter:v=>cellTypes[v]},name:'Cluster',nameLocation:'middle',nameGap:190,nameMoveOverlap:false,nameTextStyle:{fontSize:18,fontFamily:FONT,color:'#111'}},
 Object.assign(ggAxis(-.143,.596,[0,.2,.4],v=>(+v).toFixed(1),'Gene expression',38,9),{nameMoveOverlap:false}));
yAxis[gE].nameTextStyle.fontSize=19;
function violin(stats,dx,color){series.push({type:'custom',xAxisIndex:gE,yAxisIndex:gE,silent:true,clip:false,data:stats.map((s,i)=>[i,s[0]]),renderItem(p,api){
  const s=stats[p.dataIndex],x=api.coord([api.value(0)+dx,0])[0],Y=v=>api.coord([0,v])[1];
  const kids=[{type:'line',shape:{x1:x,y1:Y(s[0]),x2:x,y2:Y(s[1])},style:{stroke:color,lineWidth:2}}];
  if(s[2]!==null)kids.push({type:'rect',shape:{x:x-2.5,y:Y(s[3]),width:5,height:Y(s[2])-Y(s[3])},style:{fill:'#F8FCFF',stroke:color,lineWidth:1.6}});
  s[4].forEach(b=>{const c=Array.isArray(b)?b[0]:b,ry=Array.isArray(b)?Math.max(4,Y(c-b[1])-Y(c)):4;kids.push({type:'ellipse',shape:{cx:x,cy:Y(c),rx:4.4,ry},style:{fill:color}});});
  return {type:'group',children:kids};}});}
violin(immune1,-.207,'#87CEEB');violin(immune2,.207,'#FFC0CB');
series.push({type:'scatter',xAxisIndex:gE,yAxisIndex:gE,data:significance.map(s=>[s[0],starLevel,s[1]]),symbol:'circle',symbolSize:1,silent:true,itemStyle:{color:'rgba(0,0,0,0)'},label:{show:true,position:'inside',formatter:p=>significance[p.dataIndex][1],fontSize:15,fontFamily:FONT,color:'#111',offset:[0,2]}});
txt('DEGs_Cluster',527.5,1916,{size:20.5,weight:'bold',color:'#111'});
[[613,'#87CEEB','1',654],[668,'#FFC0CB','2',708]].forEach(a=>{rect(a[0],1902,a[0]+26,1929,'#fff',a[1],2.5);[1910,1915.5,1921].forEach(y=>seg([[a[0],y],[a[0]+26,y]],a[1],2));txt(a[2],a[3],1915,{size:20,weight:'bold',color:'#111'});});
// ---- F
const fLeft=1283.6,fRight=1931,TEAL='#1CB5B5',CORAL='#EC7168',BLUE='#3D69B1',LB='#A6CEE3',PU='#CAB2D6',LG='#E3E3E3',DG='#B0B0B0';
[1287.7,1669.6,2055].forEach((y0,b)=>{
  seg([[1282,y0],[1511,y0]],'#111',2.5);seg([[1702,y0],[1932,y0]],'#111',2.5);
  seg([[1298,y0-9],[1283,y0],[1298,y0+9]],'#111',2.5);seg([[1916,y0-9],[1931,y0],[1916,y0+9]],'#111',2.5);
  txt('85 TARGET patients',1606.5,y0-1,{size:20,weight:'bold',color:'#111'});
  stackStrip([fLeft,y0+26,fRight,y0+59],groupTotals[b],[LB,PU],groupNames[b],'#6E6E6E');
  stackStrip([fLeft,y0+68.3,fRight,y0+101.3],[splitCounts[b][0],splitCounts[b][1],splitCounts[b][2],splitCounts[b][3]],[TEAL,CORAL,TEAL,CORAL],null,'#6E6E6E');
  const t=y0+110.7;
  rect(fLeft,t,fRight,t+226.4,'#fff','#707070',2);
  const c1=[1284.6,1479],c2=[1485.6,1629.4],c3=[1635.8,1780],c4=[1786.4,1930];
  const W='#F2F6F8';
  rect(c1[0],t+1,c1[1],t+96.6,BLUE);txt('DEGs_Clusters',1381,t+47.6,{size:15,weight:'bold',color:W});
  rect(c2[0],t+1,c4[1],t+35.6,BLUE);txt(tableTitles[b],1708,t+17.6,{size:15,weight:'bold',color:W});
  [[c2,LB,0],[c3,PU,1]].forEach(a=>{rect(a[0][0],t+41.6,a[0][1],t+96.6,a[1]);const cx=(a[0][0]+a[0][1])/2;txt(groupNames[b][a[2]],cx,t+60.6,{size:15,color:'#E4ECF0'});txt(groupShare[b][a[2]],cx,t+78.7,{size:14,color:'#E4ECF0'});});
  rect(c4[0],t+41.6,c4[1],t+96.6,DG);txt('P\u2212value',1858,t+69.2,{size:15,style:'italic',color:'#222'});
  rect(c1[0],t+103.6,c1[1],t+162,TEAL);rect(c1[0],t+166.6,c1[1],t+225.4,CORAL);
  [['1','(n='+clusterCounts[0]+')',123.4,143.1],['2','(n='+clusterCounts[1]+')',186.6,206.9]].forEach(a=>{txt(a[0],1381,t+a[2],{size:15,weight:'bold',color:'#fff'});txt(a[1],1381,t+a[3],{size:15,weight:'bold',color:'#fff'});});
  [[c2,t+103.6,t+162,LG,0,132],[c3,t+103.6,t+162,LG,1,132],[c2,t+166.6,t+225.4,DG,2,196],[c3,t+166.6,t+225.4,DG,3,196]].forEach(a=>{rect(a[0][0],a[1],a[0][1],a[2],a[3]);txt(splitLabels[b][a[4]],(a[0][0]+a[0][1])/2,t+a[5],{size:14.5,color:'#222'});});
  rect(c4[0],t+103.6,c4[1],t+225.4,DG);txt(pValues[b],1858,t+164,{size:14.5,color:'#222'});
  const ly=t+244;
  rect(1573.5,ly-4.5,1582.5,ly+4.5,TEAL);txt('1',1598,ly,{size:20,color:'#222'});
  rect(1614.3,ly-4.5,1623.3,ly+4.5,CORAL);txt('2',1638.5,ly,{size:20,color:'#222'});
});
const chart=echarts.init(document.getElementById('c'),null,{renderer:'canvas',width:1960,height:2436});
chart.setOption({animation:false,backgroundColor:'#fff',grid,xAxis,yAxis,series,visualMap,graphic:{elements:G},textStyle:{fontFamily:FONT}});
</script></body></html>
